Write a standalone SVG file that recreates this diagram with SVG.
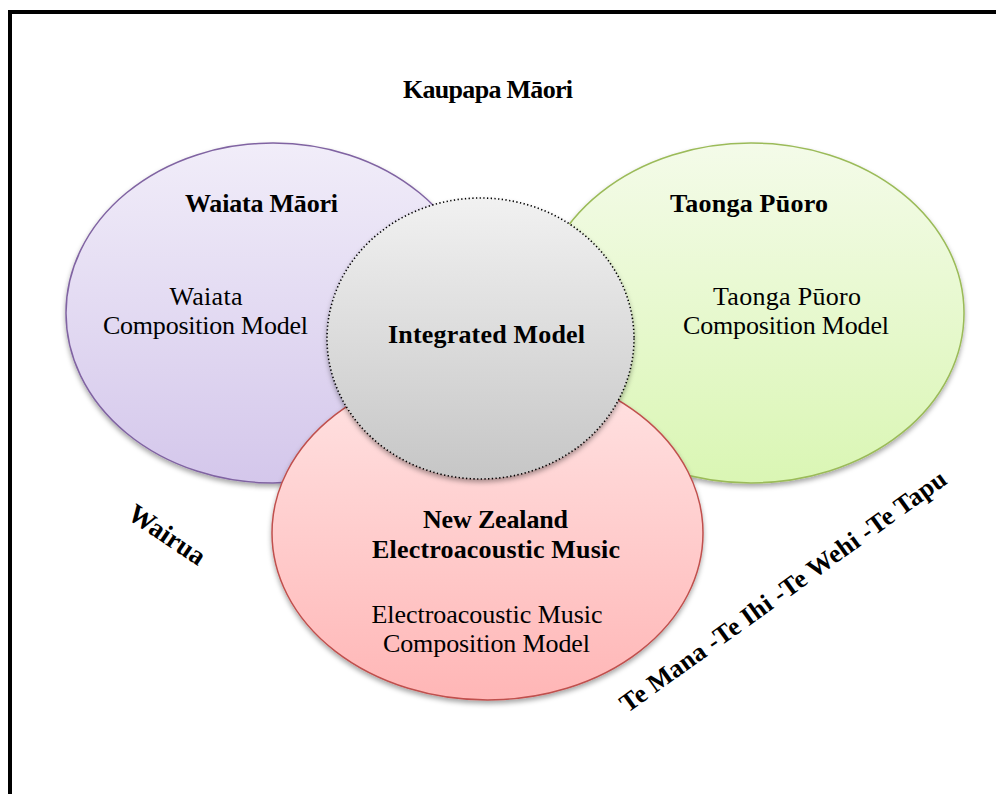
<svg xmlns="http://www.w3.org/2000/svg" width="996" height="794" viewBox="0 0 996 794">
  <style>
    .t { font-family: "Liberation Serif", "DejaVu Serif", serif; font-size: 26px; fill: #000; text-anchor: middle; }
    .b { font-weight: bold; }
    .sh { filter: url(#shadow); }
  </style>
  <defs>
    <filter id="shadow" x="-10%" y="-10%" width="120%" height="125%">
      <feDropShadow dx="0" dy="3" stdDeviation="2.5" flood-color="#000" flood-opacity="0.35"/>
    </filter>
    <linearGradient id="gPurple" x1="0" y1="0" x2="0" y2="1">
      <stop offset="0" stop-color="#f1edf9"/>
      <stop offset="1" stop-color="#d4c7eb"/>
    </linearGradient>
    <linearGradient id="gGreen" x1="0" y1="0" x2="0" y2="1">
      <stop offset="0" stop-color="#f4fbe9"/>
      <stop offset="1" stop-color="#daf6b4"/>
    </linearGradient>
    <linearGradient id="gRed" x1="0" y1="0" x2="0" y2="1">
      <stop offset="0" stop-color="#ffe4e4"/>
      <stop offset="1" stop-color="#ffb6b6"/>
    </linearGradient>
    <linearGradient id="gGray" x1="0" y1="0" x2="0" y2="1">
      <stop offset="0" stop-color="#f1f1f1"/>
      <stop offset="1" stop-color="#c6c6c6"/>
    </linearGradient>
  </defs>

  <rect width="996" height="794" fill="#fff"/>
  <!-- page frame, running off the right and bottom edges -->
  <rect x="10" y="12" width="1010" height="820" fill="none" stroke="#000" stroke-width="4"/>

  <text class="t b" x="488" y="98" textLength="170">Kaupapa Māori</text>

  <g id="waiata-maori">
    <ellipse class="sh" cx="273" cy="313" rx="207" ry="170" fill="url(#gPurple)" stroke="#8064a2" stroke-width="1.5"/>
    <text class="t b" x="261.5" y="212" textLength="153">Waiata Māori</text>
    <text class="t" x="206" y="305" textLength="73">Waiata</text>
    <text class="t" x="205.5" y="334" textLength="205">Composition Model</text>
  </g>

  <g id="taonga-puoro">
    <ellipse class="sh" cx="751" cy="313" rx="213" ry="170" fill="url(#gGreen)" stroke="#9bbb59" stroke-width="1.5"/>
    <text class="t b" x="749" y="212" textLength="158">Taonga Pūoro</text>
    <text class="t" x="787" y="305" textLength="148">Taonga Pūoro</text>
    <text class="t" x="786" y="334" textLength="206">Composition Model</text>
  </g>

  <g id="nz-electroacoustic">
    <ellipse class="sh" cx="487.5" cy="533" rx="215.5" ry="167" fill="url(#gRed)" stroke="#c0504d" stroke-width="1.5"/>
    <text class="t b" x="495.5" y="528" textLength="145">New Zealand</text>
    <text class="t b" x="496" y="558" textLength="248">Electroacoustic Music</text>
    <text class="t" x="487" y="623" textLength="231">Electroacoustic Music</text>
    <text class="t" x="486.5" y="652" textLength="207">Composition Model</text>
  </g>

  <g id="integrated-model">
    <ellipse class="sh" cx="480.5" cy="338.5" rx="153.5" ry="140.5" fill="url(#gGray)" stroke="#000" stroke-width="1.6" stroke-dasharray="1.3 2.4"/>
    <text class="t b" x="486.5" y="343" textLength="197">Integrated Model</text>
  </g>

  <g id="connectors"></g>

  <text class="t b" transform="translate(162 542) rotate(34)" x="0" y="0" style="font-size:27px">Wairua</text>
  <text class="t b" transform="translate(788 598) rotate(-35.7)" x="0" y="0" textLength="395">Te Mana -Te Ihi -Te Wehi -Te Tapu</text>
</svg>
